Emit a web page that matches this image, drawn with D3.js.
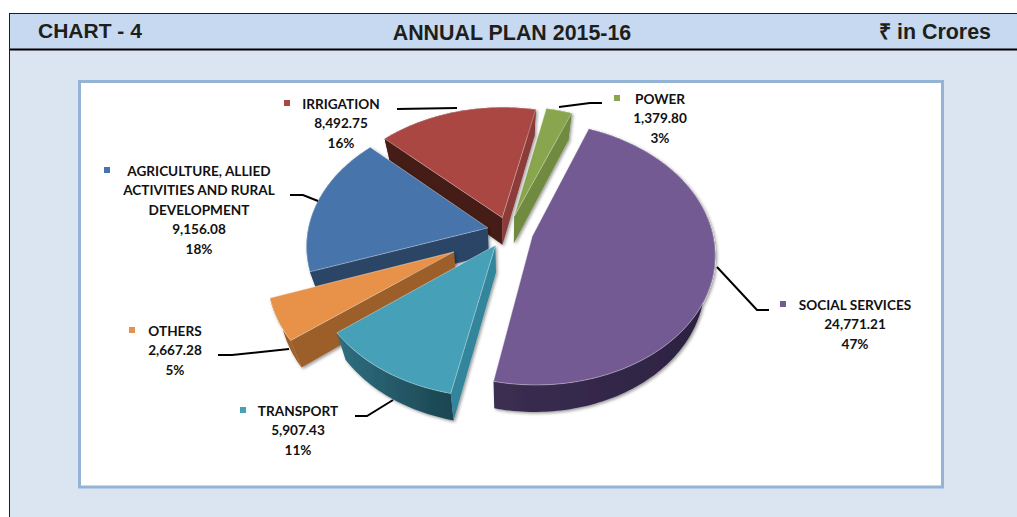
<!DOCTYPE html>
<html><head><meta charset="utf-8">
<script src="https://cdnjs.cloudflare.com/ajax/libs/d3/7.8.5/d3.min.js"></script>
<style>html,body{margin:0;padding:0;background:#fff}svg{display:block}</style>
</head><body><svg id="c" width="1017" height="517"></svg>
<script>
const categories = ["SOCIAL SERVICES","TRANSPORT","OTHERS","AGRICULTURE, ALLIED\nACTIVITIES AND RURAL\nDEVELOPMENT","IRRIGATION","POWER"];
const values = [24771.21,5907.43,2667.28,9156.08,8492.75,1379.80];
const valueLabels = ["24,771.21","5,907.43","2,667.28","9,156.08","8,492.75","1,379.80"];
const percentLabels = ["47%","11%","5%","18%","16%","3%"];
const explosion = [0.14,0.13,0.335,0.115,0.11,0.12];
const topColors = ["#735a93","#45a0b8","#e8914a","#4775ab","#aa4643","#89a54e"];
const wallFrom = ["#3b2e52","#2f6f80","#8a5526","#2c4a6c","#5a2422","#6f8a3f"];
const wallTo = ["#2c2140","#1b4551","#a0602b","#2a4565","#451b18","#5f7a35"];
const startWall = ["none","#33859b","#9c5f2a","#2a4565","#451b18","none"];
const endWall = ["none","none","none","none","#8c3a37","#6f8a3f"];
const drawOrder = [5,4,3,0,2,1];
const labelCenter = [[855,305],[298,411],[175,331],[199,171],[341,104],[660,99]];
const markerX = [783,243,132,107,287,617];
const leaders = [
 [[717,267],[757,310],[769,310]],
 [[393,400],[367,416],[355,416]],
 [[289,349],[232,355],[218,355]],
 [[318,201],[303,195],[290,195]],
 [[457,108],[397,109]],
 [[559,107],[590,103],[602,103]]
];

const svg = d3.select("#c");
const W=1017,H=517;
const defs = svg.append("defs");
const f = defs.append("filter").attr("id","sh").attr("x","-10%").attr("y","-10%").attr("width","125%").attr("height","125%");
f.append("feDropShadow").attr("dx",1.5).attr("dy",1.5).attr("stdDeviation",1.4).attr("flood-color","#000").attr("flood-opacity",.4);

// page frame
svg.append("rect").attr("x",10).attr("y",14).attr("width",W-10).attr("height",H-14).attr("fill","#dbe5f1");
svg.append("rect").attr("x",10).attr("y",14).attr("width",W-10).attr("height",35).attr("fill","#c6d9f1");
svg.append("line").attr("x1",9).attr("x2",W).attr("y1",13.5).attr("y2",13.5).attr("stroke","#0f1f3d").attr("stroke-width",1);
svg.append("line").attr("x1",9.5).attr("x2",9.5).attr("y1",13).attr("y2",H).attr("stroke","#0f1f3d").attr("stroke-width",1);
svg.append("line").attr("x1",10).attr("x2",W).attr("y1",49.5).attr("y2",49.5).attr("stroke","#000").attr("stroke-width",2);
svg.append("rect").attr("x",79.5).attr("y",81.5).attr("width",863).attr("height",405.5).attr("fill","#fff").attr("stroke","#95b3d7").attr("stroke-width",3);

const head = (x,y,t,a,fs)=>svg.append("text").attr("x",x).attr("y",y).attr("text-anchor",a)
  .attr("font-family","'Liberation Sans',Arial,sans-serif").attr("font-weight","bold").attr("font-size",fs).attr("fill","#1e1e1a").text(t);
head(38,37.5,"CHART - 4","start",21);
head(512,40,"ANNUAL PLAN 2015-16","middle",21.4);
head(991,38.5,"₹ in Crores","end",21.4);

// pie geometry
const rot = 21.5*Math.PI/180;
const arcs = d3.pie().sort(null).startAngle(rot).endAngle(rot+2*Math.PI)(values);
const Cx=508,Cy=231,Rx=180,Ry=128,k=0.13,depth=27,narrow=0.05;
const sx = d3.scaleLinear().domain([-1,1]).range([Cx-Rx,Cx+Rx]);
const sy = d3.scaleLinear().domain([-1,1]).range([Cy-Ry,Cy+Ry]);
const project = (px,py,z)=>{
  const s = 1/(1-k*py);
  return [sx(px*s*(1-narrow*z)), sy(py*s)+z*depth];
};
const line = d3.line();
arcs.forEach(a=>a.mid=(a.startAngle+a.endAngle)/2);
const pt=(a,ang,r,z)=>{
  const e=explosion[a.index];
  return project(e*Math.sin(a.mid)+r*Math.sin(ang), -e*Math.cos(a.mid)-r*Math.cos(ang), z);
};
const angles = a=>{const n=Math.max(8,Math.ceil((a.endAngle-a.startAngle)/0.02));
  return d3.range(n+1).map(i=>a.startAngle+(a.endAngle-a.startAngle)*i/n);};

const pie = svg.append("g");
drawOrder.forEach(i=>{
  const a = arcs[i];
  const g = pie.append("g").attr("filter","url(#sh)");
  const as = angles(a);
  const top = as.map(t=>pt(a,t,1,0));
  const bot = as.map(t=>pt(a,t,1,1));
  const gid="w"+i;
  const lg=defs.append("linearGradient").attr("id",gid).attr("gradientUnits","userSpaceOnUse")
    .attr("x1",d3.min(top,d=>d[0])).attr("x2",d3.max(top,d=>d[0])).attr("y1",0).attr("y2",0);
  lg.append("stop").attr("offset",0).attr("stop-color",wallFrom[i]);
  lg.append("stop").attr("offset",1).attr("stop-color",wallTo[i]);
  g.append("path").attr("d",line(top.concat(bot.slice().reverse()))+"Z").attr("fill",`url(#${gid})`);
  const apex=pt(a,0,0,0), apexB=pt(a,0,0,1);
  if(startWall[i]!=="none") g.append("path").attr("d",line([apex,top[0],bot[0],apexB])+"Z").attr("fill",startWall[i]);
  if(endWall[i]!=="none") g.append("path").attr("d",line([apex,top[top.length-1],bot[bot.length-1],apexB])+"Z").attr("fill",endWall[i]);
  g.append("path").attr("d",line([apex].concat(top))+"Z").attr("fill",topColors[i])
    .attr("stroke","#fff").attr("stroke-opacity",.45).attr("stroke-width",.8);
});

// leaders
leaders.forEach(l=>svg.append("path").attr("d",d3.line().curve(d3.curveLinear)(l)).attr("fill","none").attr("stroke","#000").attr("stroke-width",2));

// labels
categories.forEach((c,i)=>{
  const lines=c.split("\n").concat([valueLabels[i],percentLabels[i]]);
  const [x,y]=labelCenter[i];
  const t=svg.append("text").attr("text-anchor","middle").attr("font-family","Lato,Carlito,sans-serif")
    .attr("font-weight","bold").attr("font-size",13.6).attr("fill","#111");
  lines.forEach((s,j)=>t.append("tspan").attr("x",x).attr("y",y+4.5+j*19.5).text(s));
  svg.append("rect").attr("x",markerX[i]-3).attr("y",y-4).attr("width",6).attr("height",6).attr("fill",topColors[i]);
});
</script></body></html>
